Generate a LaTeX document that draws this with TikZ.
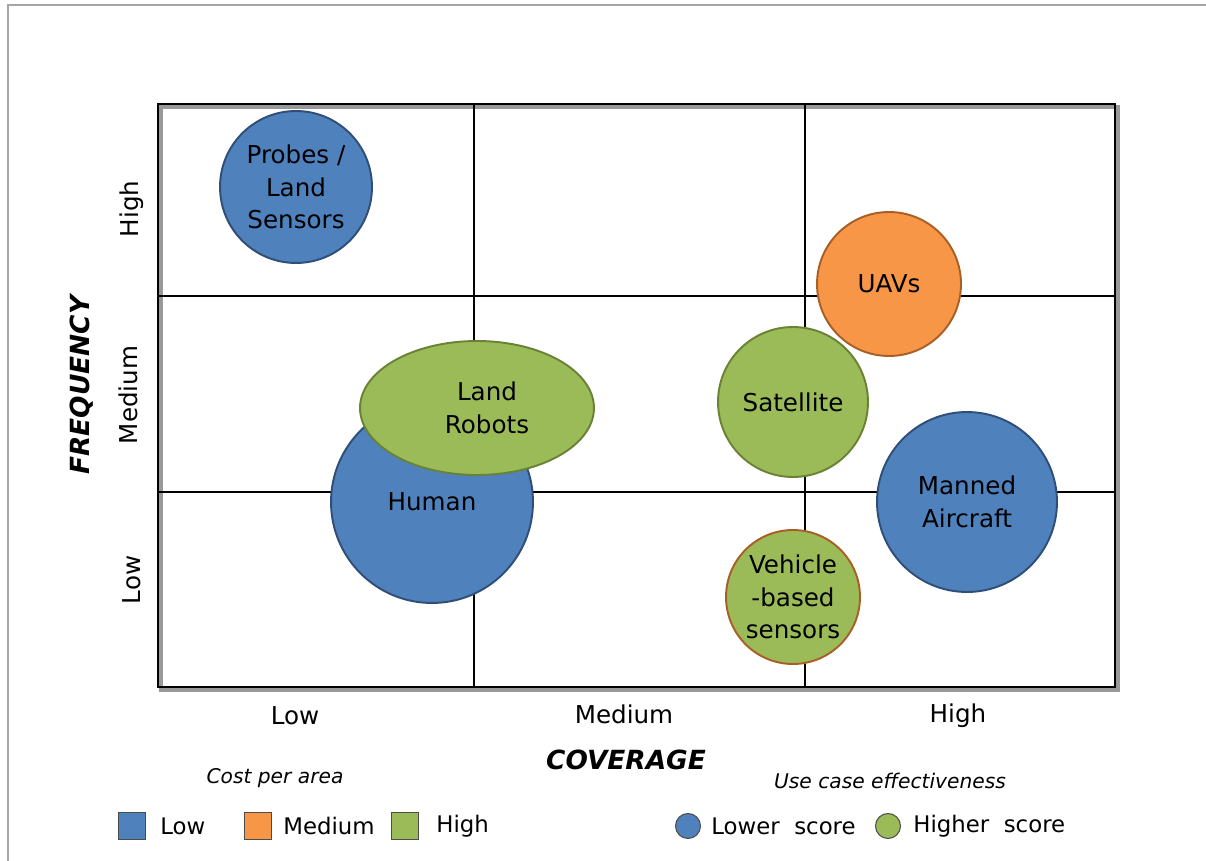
\documentclass[tikz,border=0pt]{standalone}
\usepackage{fontspec}
\setmainfont{DejaVu Sans}
\usetikzlibrary{shapes.geometric}
\definecolor{lowblue}{HTML}{4F81BD}
\definecolor{lowedge}{HTML}{2F4E78}
\definecolor{midorange}{HTML}{F79646}
\definecolor{midedge}{HTML}{A85F26}
\definecolor{highgreen}{HTML}{9BBB59}
\definecolor{highedge}{HTML}{6A8236}
\tikzset{
bubble/.style={draw, line width=1.1pt, inner sep=0pt, align=center, font=\fontsize{14}{18.5}\selectfont}, % common look of every item
lowcost/.style={bubble, circle, fill=lowblue, draw=lowedge},
midcost/.style={bubble, circle, fill=midorange, draw=midedge},
highcost/.style={bubble, circle, fill=highgreen, draw=highedge},
ticklbl/.style={font=\fontsize{14}{16}\selectfont}, % axis level labels
axistitle/.style={font=\fontsize{15}{17}\selectfont\bfseries\itshape},
legtitle/.style={font=\fontsize{11.5}{14}\selectfont\itshape},
legtext/.style={font=\fontsize{13}{15}\selectfont, anchor=west, inner sep=0pt},
legbox/.style={draw=black!70, line width=0.6pt, minimum size=0.54cm, inner sep=0pt},
legdot/.style={circle, draw=black!70, line width=0.6pt, minimum size=0.5cm, inner sep=0pt},
}
\begin{document}
\begin{tikzpicture}[x=0.02cm, y=-0.02cm]
\useasboundingbox (0,0) rectangle (1206,861);
% outer frame
\draw[gray!70, line width=1.2pt] (8,861) -- (8,5) -- (1206,5);
% grid
\draw[black!40, line width=2pt] (161,107) rectangle (1118,690);
\draw[line width=0.8pt] (474,104) -- (474,687) (805,104) -- (805,687)
    (158,296) -- (1115,296) (158,492) -- (1115,492);
\draw[line width=1.6pt] (158,104) rectangle (1115,687);
% items
\node[lowcost, minimum size=3.04cm] (probes) at (296,187) {Probes /\\Land\\Sensors};
\node[midcost, minimum size=2.88cm] (uavs) at (889,284) {UAVs};
\node[highcost, minimum size=3.0cm] (satellite) at (793,402) {Satellite};
\node[lowcost, minimum size=4.04cm] (human) at (432,502) {\raisebox{0pt}{Human}};
\node[bubble, ellipse, fill=highgreen, draw=highedge, minimum width=4.68cm, minimum height=2.68cm] (robots) at (477,408) {\hspace*{0.4cm}Land\\\hspace*{0.4cm}Robots};
\node[lowcost, minimum size=3.6cm] (manned) at (967,502) {Manned\\Aircraft};
\node[highcost, draw=midedge, minimum size=2.68cm] (vehicle) at (793,597) {Vehicle\\-based\\sensors};
% axis labels
\node[ticklbl] (xlow) at (295,716) {Low};
\node[ticklbl] (xmed) at (624,714) {Medium};
\node[ticklbl] (xhigh) at (958,716) {High};
\node[axistitle] (xtitle) at (626,760) {COVERAGE};
\node[ticklbl, rotate=90] (ylow) at (132,580) {Low};
\node[ticklbl, rotate=90] (ymed) at (128,395) {Medium};
\node[ticklbl, rotate=90] (yhigh) at (132,209) {High};
\node[axistitle, rotate=90] (ytitle) at (82,385) {FREQUENCY};
% legends
\node[legtitle] (costtitle) at (275,778) {Cost per area};
\node[legbox, fill=lowblue] (boxlow) at (132,826) {};
\node[legtext] (txtlow) at (160,826) {Low};
\node[legbox, fill=midorange] (boxmed) at (258,826) {};
\node[legtext] (txtmed) at (283,826) {Medium};
\node[legbox, fill=highgreen] (boxhigh) at (405,826) {};
\node[legtext] (txthigh) at (436,826) {High};
\node[legtitle] (usetitle) at (890,781) {Use case effectiveness};
\node[legdot, fill=lowblue] (dotlow) at (688,826) {};
\node[legtext] (txtlower) at (711,826) {Lower\ \ score};
\node[legdot, fill=highgreen] (dothigh) at (888,826) {};
\node[legtext] (txthigher) at (913,826) {Higher\ \ score};
\end{tikzpicture}
\end{document}
